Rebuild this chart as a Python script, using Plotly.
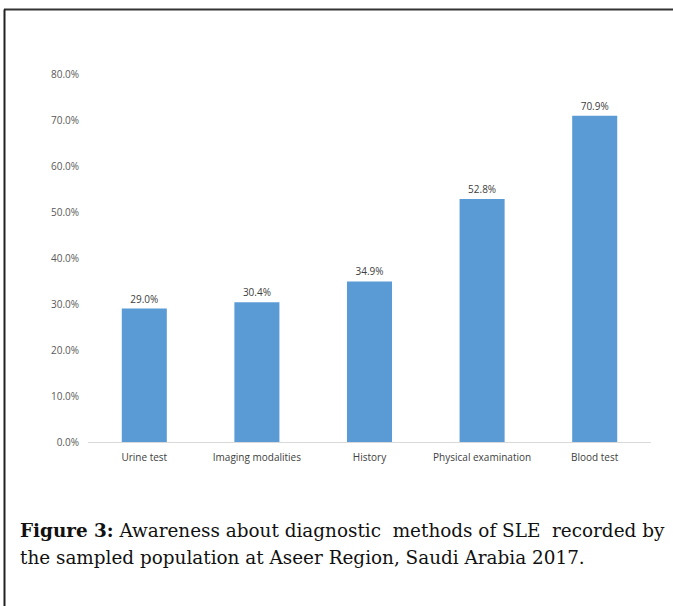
import plotly.graph_objects as go

# Awareness of SLE diagnostic methods (share of respondents)
methods = ["Urine test", "Imaging modalities", "History", "Physical examination", "Blood test"]
awareness = [0.290, 0.304, 0.349, 0.528, 0.709]
y_ticks = [0.0, 0.1, 0.2, 0.3, 0.4, 0.5, 0.6, 0.7, 0.8]

W, H = 673, 606
L, R, T, B = 88, 22, 74, 164
pw, ph = W - L - R, H - T - B

def px_x(x):
    return (x - L) / pw

def px_y(y):
    return (H - B - y) / ph

fig = go.Figure(
    go.Bar(
        x=methods,
        y=awareness,
        marker=dict(color="#5B9BD5", line=dict(width=0)),
        texttemplate="%{y:.1%}",
        textposition="outside",
        textfont=dict(family="Open Sans", size=10, color="#404040"),
        cliponaxis=False,
        width=0.4,
    )
)

fig.update_layout(
    width=W,
    height=H,
    margin=dict(l=L, r=R, t=T, b=B),
    paper_bgcolor="white",
    plot_bgcolor="white",
    showlegend=False,
    font=dict(family="Open Sans", size=10, color="#595959"),
)

fig.update_xaxes(
    showline=True,
    linecolor="#D9D9D9",
    linewidth=1,
    showgrid=False,
    ticks="",
    tickfont=dict(family="Open Sans", size=10, color="#404040"),
    ticklabelstandoff=6,
)

fig.update_yaxes(
    range=[0, 0.8],
    tickvals=y_ticks,
    tickformat=".1%",
    showgrid=False,
    zeroline=False,
    showline=False,
    ticks="",
    ticklabelstandoff=8,
    tickfont=dict(family="Open Sans", size=10, color="#595959"),
)

# Frame lines along the top and left edges
fig.add_shape(type="line", xref="paper", yref="paper",
              x0=px_x(4), x1=px_x(W + 2), y0=px_y(9.5), y1=px_y(9.5),
              line=dict(color="#333333", width=2))
fig.add_shape(type="line", xref="paper", yref="paper",
              x0=px_x(4.5), x1=px_x(4.5), y0=px_y(9.5), y1=px_y(H + 2),
              line=dict(color="#222222", width=2))

# Caption below the chart (first line spread to the full width)
line1 = ("<b>Figure 3:</b> Awareness about diagnostic &nbsp;methods of SLE "
         "&nbsp;recorded by")
line2 = "the sampled population at Aseer Region, Saudi Arabia 2017."
cap_font = dict(family="DejaVu Serif", size=18.4, color="#111111")
fig.add_annotation(text=line1, xref="paper", yref="paper",
                   x=px_x(18), y=px_y(530), xanchor="left", yanchor="middle",
                   showarrow=False, font=cap_font)
fig.add_annotation(text=line2, xref="paper", yref="paper",
                   x=px_x(18), y=px_y(557), xanchor="left", yanchor="middle",
                   showarrow=False, font=cap_font)

fig.write_html("out.html")
